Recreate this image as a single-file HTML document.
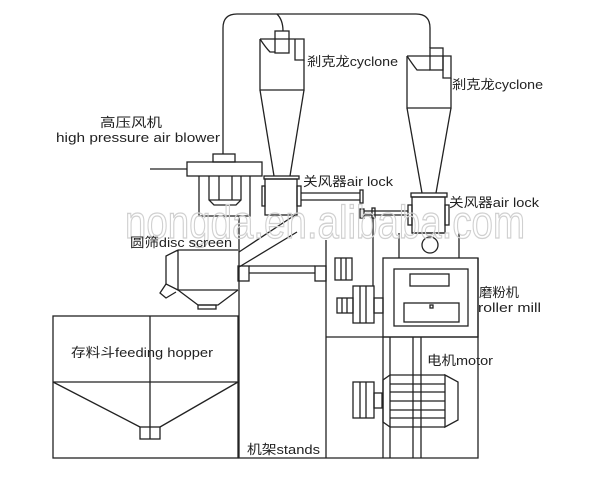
<!DOCTYPE html>
<html><head><meta charset="utf-8"><style>
html,body{margin:0;padding:0;background:#fff;}
svg{display:block;}
text{font-family:"Liberation Sans","Noto Sans CJK SC",sans-serif;fill:#222;}
</style></head><body>
<svg width="613" height="477" viewBox="0 0 613 477" xmlns="http://www.w3.org/2000/svg">
<g fill="none" stroke="#222" stroke-width="1.3">
<path d="M223,154 V28 Q223,14 237,14 H416 Q430,14 430,28 V48"/>
<path d="M277,14 Q283,20 283,31"/>
<rect x="275" y="31" width="14" height="22"/>
<path d="M260,39 H295 V60 H304 V39 H295"/>
<path d="M260,39 V90 H304 V60"/>
<path d="M260,39 Q266,48 270,52 H275"/>
<path d="M260,90 L274,176 M304,90 L290,176"/>
<rect x="430" y="48" width="13" height="22"/>
<path d="M407,56 H451 V78 H443 V56"/>
<path d="M407,56 V108 H451 V78"/>
<path d="M407,56 Q413,65 417,70 H430"/>
<path d="M407,108 L422,193 M451,108 L436,193"/>
<rect x="213" y="154" width="22" height="8"/>
<rect x="187" y="162" width="75" height="14"/>
<path d="M150,169 H187"/>
<path d="M199,176 V216 H239 M250,176 V216 H239"/>
<path d="M209,176 V200 L214,205 H236 L241,200 V176 M209,200 H241 M219,176 V200 M232,176 V200"/>
<rect x="264" y="176" width="35" height="3"/>
<rect x="265" y="179" width="32" height="36"/>
<rect x="262" y="186" width="3" height="20"/>
<rect x="297" y="186" width="4" height="20"/>
<path d="M301,193 H360 M301,200 H360"/>
<rect x="360" y="190" width="3" height="13"/>
<rect x="411" y="193" width="36" height="4"/>
<rect x="412" y="197" width="33" height="36"/>
<rect x="408" y="205" width="4" height="20"/>
<rect x="445" y="205" width="4" height="20"/>
<path d="M364,211 H408 M364,215 H408"/>
<rect x="360" y="209" width="4" height="9"/>
<rect x="372" y="208" width="3" height="10"/>
<path d="M373,218 V286"/>
<path d="M295,215 L239,252 M297,232 L239,267"/>
<path d="M399,233 V258 M459,233 V258 M412,233 H445"/>
<circle cx="430" cy="245" r="8"/>
<path d="M178,250 H238 M178,250 V290 H238 M178,250 L166,256 V284 L178,290"/>
<path d="M178,290 L198,305 H218 L238,290"/>
<rect x="198" y="305" width="18" height="4"/>
<path d="M166,284 L160,293 L166,298 L176,292"/>
<rect x="238" y="266" width="11" height="15"/>
<path d="M249,266 H315 M249,273 H315"/>
<rect x="315" y="266" width="11" height="15"/>
<rect x="335" y="258" width="17" height="22"/>
<path d="M341,258 V280 M346,258 V280"/>
<path d="M239,216 V458 H478 V258 M326,240 V458"/>
<path d="M326,337 H478"/>
<rect x="383" y="258" width="95" height="79"/>
<rect x="394" y="269" width="74" height="57"/>
<rect x="410" y="274" width="39" height="12"/>
<rect x="404" y="303" width="55" height="19"/>
<rect x="430" y="305" width="3" height="3"/>
<rect x="353" y="286" width="21" height="37"/>
<path d="M360,286 V323 M366,286 V323"/>
<rect x="337" y="298" width="16" height="15"/>
<path d="M342,298 V313 M347,298 V313"/>
<rect x="374" y="298" width="9" height="15"/>
<path d="M383,337 V458 M390,337 V458 M413,337 V458 M421,337 V458"/>
<path d="M390,375 H445 M390,427 H445 M390,384 H445 M390,392 H445 M390,401 H445 M390,410 H445 M390,418 H445"/>
<path d="M445,375 L458,382 V420 L445,427 Z"/>
<path d="M390,375 L383,380 V422 L390,427"/>
<rect x="353" y="382" width="21" height="36"/>
<path d="M360,382 V418 M366,382 V418"/>
<rect x="374" y="393" width="8" height="15"/>
<rect x="53" y="316" width="185" height="142"/>
<path d="M53,382 H238 M150,316 V439"/>
<path d="M53,382 L140,427 M238,382 L160,427"/>
<rect x="140" y="427" width="20" height="12"/>
</g>
<text x="125" y="238" font-size="46" style="fill:none;stroke:#d0d0d0;stroke-width:1.3" textLength="400" lengthAdjust="spacingAndGlyphs">nongda.en.alibaba.com</text>
<g font-size="13" lengthAdjust="spacingAndGlyphs">
<text x="307" y="66" textLength="91" lengthAdjust="spacingAndGlyphs">剎克龙cyclone</text>
<text x="452" y="89" textLength="91" lengthAdjust="spacingAndGlyphs">剎克龙cyclone</text>
<text x="303" y="186" textLength="90" lengthAdjust="spacingAndGlyphs">关风器air lock</text>
<text x="449" y="207" textLength="90" lengthAdjust="spacingAndGlyphs">关风器air lock</text>
<text x="100" y="127" textLength="62" lengthAdjust="spacingAndGlyphs">高压风机</text>
<text x="56" y="142" textLength="164" lengthAdjust="spacingAndGlyphs">high pressure air blower</text>
<text x="130" y="247" textLength="102" lengthAdjust="spacingAndGlyphs">圆筛disc screen</text>
<text x="479" y="297" textLength="40" lengthAdjust="spacingAndGlyphs">磨粉机</text>
<text x="478" y="312" textLength="63" lengthAdjust="spacingAndGlyphs">roller mill</text>
<text x="427" y="365" textLength="66" lengthAdjust="spacingAndGlyphs">电机motor</text>
<text x="71" y="357" textLength="142" lengthAdjust="spacingAndGlyphs">存料斗feeding hopper</text>
<text x="247" y="454" textLength="73" lengthAdjust="spacingAndGlyphs">机架stands</text>
</g>
</svg>
</body></html>
